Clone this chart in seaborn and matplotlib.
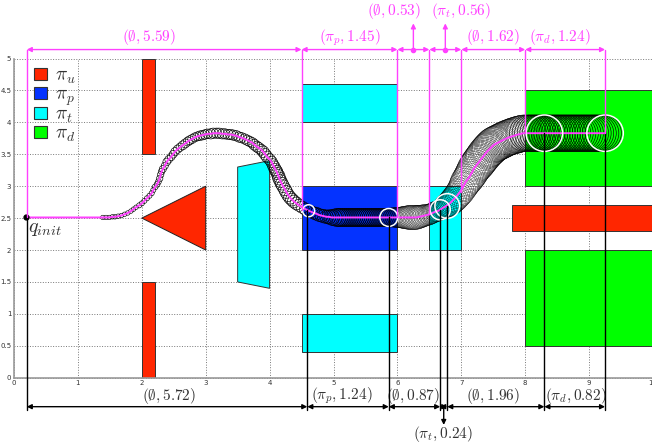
import numpy as np
import seaborn as sns
import matplotlib
matplotlib.use("Agg")
import matplotlib.pyplot as plt
from matplotlib.patches import Circle, Polygon

# start of the path (no tube yet)
q_init = [0.19, 2.51]

# tube centre and radius, section by section
a_x = [1.39,1.44,1.49,1.54,1.58,1.63,1.68,1.73,1.78,1.83,1.87,1.91,1.96,2.00,2.04,2.08,2.12,2.155,2.18,2.21,2.24,2.26,2.28,2.295,2.31]
a_y = [2.51,2.51,2.51,2.52,2.52,2.53,2.54,2.56,2.58,2.61,2.64,2.67,2.70,2.73,2.77,2.81,2.85,2.89,2.94,2.99,3.03,3.07,3.12,3.18,3.23]
a_r = [.035,.035,.035,.035,.035,.035,.035,.035,.035,.035,.035,.035,.04,.04,.04,.04,.04,.04,.04,.045,.045,.045,.05,.05,.05]

b_x = [2.33,2.36,2.39,2.42,2.46,2.49,2.52,2.56,2.60,2.64,2.68,2.72,2.75,2.79,2.83,2.87,2.91,2.95,2.99,3.03,3.08,3.12,3.17,3.21,3.26,3.30,3.35,3.39,3.43,3.48,3.52,3.56,3.61,3.65,3.69,3.73,3.76,3.80,3.83,3.87,3.90,3.93,3.96,4.00,4.03,4.05,4.07,4.09,4.11,4.12,4.14,4.15,4.17,4.19,4.21,4.24,4.26,4.29,4.32,4.35,4.38,4.42,4.46,4.51,4.56,4.61]
b_y = [3.27,3.32,3.38,3.42,3.46,3.50,3.54,3.58,3.61,3.64,3.67,3.70,3.72,3.74,3.765,3.78,3.79,3.80,3.81,3.82,3.82,3.83,3.83,3.83,3.82,3.82,3.81,3.81,3.80,3.79,3.77,3.76,3.74,3.72,3.70,3.68,3.65,3.62,3.60,3.57,3.54,3.50,3.46,3.42,3.38,3.34,3.30,3.26,3.23,3.20,3.16,3.12,3.08,3.04,3.00,2.95,2.91,2.86,2.82,2.79,2.76,2.73,2.70,2.67,2.64,2.615]
b_r = [.055,.055,.06,.06,.06,.06,.065,.065,.065,.07,.07,.07,.07,.07,.07,.07,.075,.075,.075,.075,.08,.08,.08,.08,.08,.08,.08,.08,.08,.08,.08,.08,.08,.08,.08,.08,.085,.085,.085,.085,.09,.09,.09,.09,.09,.09,.095,.095,.095,.095,.10,.10,.10,.10,.10,.10,.10,.10,.10,.10,.10,.10,.095,.095,.095,.095]

c_x = [4.65,4.69,4.73,4.77,4.81,4.85,4.89,4.93,4.97,5.01,5.05,5.08,5.11,5.14,5.17,5.20,5.23,5.26,5.29,5.32,5.35,5.38,5.41,5.44,5.47,5.50,5.53,5.56,5.59,5.62,5.65,5.68,5.71,5.74,5.77,5.80,5.83,5.87]
c_y = [2.60,2.58,2.57,2.55,2.54,2.53,2.52,2.52,2.51,2.51,2.51,2.51,2.51,2.51,2.51,2.51,2.51,2.51,2.51,2.51,2.51,2.51,2.51,2.51,2.51,2.51,2.51,2.51,2.51,2.51,2.51,2.51,2.51,2.51,2.51,2.51,2.51,2.51]
c_r = [.095,.095,.10,.10,.10,.105,.105,.11,.12,.13,.14,.14,.14,.14,.14,.14,.14,.14,.14,.14,.14,.14,.14,.14,.14,.14,.14,.14,.14,.14,.14,.14,.14,.14,.14,.14,.14,.14]

d_x = [5.90,5.92,5.94,5.96,5.98,6.00,6.02,6.04,6.06,6.08,6.10,6.12,6.14,6.16,6.18,6.20,6.22,6.24,6.26,6.28,6.30,6.32,6.34,6.36,6.38,6.40,6.42,6.445,6.47,6.49,6.51,6.53,6.55,6.57,6.59,6.61,6.63,6.65,6.67,6.69,6.71,6.73,6.75,6.765,6.78,6.80,6.82,6.84,6.86,6.88,6.90,6.92,6.94,6.96,6.98]
d_y = [2.51,2.51,2.51,2.51,2.51,2.51,2.51,2.51,2.51,2.51,2.51,2.51,2.51,2.51,2.51,2.51,2.51,2.51,2.51,2.51,2.51,2.515,2.52,2.525,2.53,2.535,2.54,2.545,2.55,2.555,2.56,2.57,2.58,2.59,2.60,2.605,2.61,2.62,2.63,2.645,2.66,2.67,2.68,2.69,2.70,2.715,2.73,2.75,2.77,2.79,2.81,2.835,2.86,2.885,2.91]
d_r = [.15,.15,.15,.152,.155,.157,.16,.162,.165,.167,.17,.175,.18,.182,.185,.187,.19,.19,.19,.187,.185,.182,.18,.177,.175,.172,.17,.167,.165,.162,.16,.16,.16,.16,.16,.16,.16,.158,.157,.16,.165,.172,.18,.187,.193,.197,.20,.203,.205,.207,.21,.212,.215,.217,.22]

e_x = [7.00,7.025,7.04,7.055,7.07,7.09,7.11,7.125,7.14,7.155,7.17,7.185,7.20,7.22,7.24,7.255,7.27,7.285,7.30,7.315,7.33,7.345,7.36,7.38,7.40,7.415,7.43,7.445,7.46,7.48,7.50,7.515,7.53,7.55,7.57,7.59,7.61,7.63,7.65,7.67,7.69,7.71,7.73,7.75,7.77,7.79,7.81,7.83,7.85,7.87,7.89,7.91,7.93,7.95,7.97,7.985,8.00]
e_y = [2.94,2.985,3.01,3.04,3.07,3.095,3.12,3.145,3.17,3.195,3.22,3.25,3.28,3.305,3.33,3.35,3.37,3.39,3.41,3.43,3.45,3.47,3.49,3.515,3.54,3.555,3.57,3.585,3.60,3.62,3.64,3.65,3.66,3.67,3.68,3.69,3.70,3.71,3.72,3.73,3.74,3.75,3.76,3.765,3.77,3.78,3.785,3.79,3.80,3.805,3.81,3.815,3.82,3.825,3.83,3.83,3.83]
e_r = [.223,.228,.23,.235,.24,.243,.245,.248,.25,.253,.255,.258,.26,.263,.265,.268,.27,.27,.27,.27,.27,.273,.275,.275,.275,.275,.275,.278,.28,.28,.28,.28,.28,.28,.28,.28,.28,.28,.28,.28,.28,.28,.28,.28,.28,.283,.283,.283,.283,.283,.285,.285,.285,.285,.285,.285,.285]

f_x = [8.04,8.08,8.12,8.16,8.20,8.24,8.28,8.30,8.34,8.38,8.42,8.46,8.50,8.54,8.58,8.62,8.66,8.70,8.74,8.78,8.82,8.86,8.90,8.94,8.98,9.02,9.06,9.10,9.14,9.18,9.22,9.25]
f_y = [3.83,3.83,3.83,3.83,3.83,3.83,3.83,3.83,3.83,3.83,3.83,3.83,3.83,3.83,3.83,3.83,3.83,3.83,3.83,3.83,3.83,3.83,3.83,3.83,3.83,3.83,3.83,3.83,3.83,3.83,3.83,3.83]
f_r = [.285,.285,.285,.285,.285,.285,.285,.285,.285,.285,.285,.285,.285,.285,.285,.285,.285,.285,.285,.285,.285,.285,.285,.285,.285,.285,.285,.285,.285,.285,.285,.285]

path_x = [q_init[0]] + a_x + b_x + c_x + d_x + e_x + f_x
path_y = [q_init[1]] + a_y + b_y + c_y + d_y + e_y + f_y

# obstacles / regions
red_rects = [(2, 3.5, 0.2, 1.5), (2, 0, 0.2, 1.5), (7.8, 2.3, 2.2, 0.4)]
red_tri = [(2, 2.5), (3, 3), (3, 2)]
cyan_rects = [(4.5, 4, 1.5, 0.6), (4.5, 0.4, 1.5, 0.6), (6.5, 2, 0.5, 1)]
cyan_poly = [(3.5, 3.3), (4, 3.4), (4, 1.4), (3.5, 1.5)]
blue_rects = [(4.5, 2, 1.5, 1)]
green_rects = [(8, 3, 2, 1.5), (8, 0.5, 2, 1.5)]

# top row: mode switches along the planned path
top_x = [0.2, 4.5, 6.0, 6.5, 7.0, 8.0, 9.25]
top_foot = [2.51, 2.62, 2.51, 2.56, 2.91, 3.83, 3.83]
top_labels = [r"$(\emptyset,5.59)$", r"$(\pi_p,1.45)$", r"$(\emptyset,0.53)$", r"$(\pi_t,0.56)$",
              r"$(\emptyset,1.62)$", r"$(\pi_d,1.24)$"]
top_label_x = [2.11, 5.26, 5.95, 7.0, 7.5, 8.55]

# bottom row: mode switches along the executed path
bot_x = [0.2, 4.59, 5.865, 6.67, 6.78, 8.30, 9.25]
bot_foot = [2.51, 2.62, 2.51, 2.63, 2.69, 3.83, 3.83]
bot_labels = [r"$(\emptyset,5.72)$", r"$(\pi_p,1.24)$", r"$(\emptyset,0.87)$", r"$(\pi_t,0.24)$",
              r"$(\emptyset,1.96)$", r"$(\pi_d,0.82)$"]
bot_label_x = [2.43, 5.13, 6.24, 6.71, 7.5, 8.8]

# white circles on the switching points
ring_x = [4.61, 5.865, 6.67, 6.78, 8.30, 9.25]
ring_y = [2.615, 2.51, 2.63, 2.69, 3.83, 3.83]
ring_r = [.094, .14, .157, .193, .285, .285]

legend_labels = [r"$\pi_u$", r"$\pi_p$", r"$\pi_t$", r"$\pi_d$"]

RED, BLUE, CYAN, GREEN = "#ff2600", "#0433ff", "#00ffff", "#00ff00"
MAG = "#ff40ff"
INK = "#333333"

sns.set_style("white")
plt.rcParams["mathtext.fontset"] = "cm"

fig = plt.figure(figsize=(6.52, 4.45), dpi=100)
ax = fig.add_axes([14 / 652, 67.3 / 445, 639 / 652, 319.2 / 445])

# regions
for rects, col in [(red_rects, RED), (cyan_rects, CYAN), (blue_rects, BLUE), (green_rects, GREEN)]:
    for r in rects:
        ax.add_patch(plt.Rectangle(r[:2], r[2], r[3], fc=col, ec="#333333", lw=0.7, zorder=2))
ax.add_patch(Polygon(red_tri, fc=RED, ec="#222222", lw=0.7, zorder=2))
ax.add_patch(Polygon(cyan_poly, fc=CYAN, ec="#333333", lw=0.7, zorder=2))

# tube of circles, thinner where they are packed tight
for sx, sy, sr, w in [(a_x, a_y, a_r, 0.45), (b_x, b_y, b_r, 0.45), (c_x, c_y, c_r, 0.45),
                      (d_x, d_y, d_r, 0.22), (e_x, e_y, e_r, 0.22), (f_x, f_y, f_r, 0.45)]:
    for x, y, r in zip(sx, sy, sr):
        ax.add_patch(Circle((x, y), r, fc="none", ec="black", lw=w, zorder=3))

# centre path
sns.lineplot(x=path_x, y=path_y, sort=False, estimator=None, color=MAG, lw=1.4, ax=ax, zorder=5)

for x, y, r in zip(ring_x, ring_y, ring_r):
    ax.add_patch(Circle((x, y), r, fc="none", ec="white", lw=1.1, zorder=6))

ax.plot(*q_init, "o", color="black", ms=3.5, zorder=7)
ax.text(0.22, 2.33, r"$q_{init}$", fontsize=14.5, color=INK, va="center", ha="left", zorder=8)

# dimension lines
top_lvl, bot_lvl = 5.14, -0.454


def dim(x0, x1, y, col):
    ax.annotate("", xy=(x1, y), xytext=(x0, y), annotation_clip=False, zorder=9,
                arrowprops=dict(arrowstyle="<|-|>", color=col, lw=1, mutation_scale=7, shrinkA=0, shrinkB=0))


def up(x, y0, y1, col):
    ax.annotate("", xy=(x, y1), xytext=(x, y0), annotation_clip=False, zorder=9,
                arrowprops=dict(arrowstyle="-|>", color=col, lw=1, mutation_scale=7, shrinkA=0, shrinkB=0))


for x, foot in zip(top_x, top_foot):
    ax.plot([x, x], [foot, top_lvl], color=MAG, lw=1, clip_on=False, zorder=8)
for x, foot in zip(bot_x, bot_foot):
    ax.plot([x, x], [foot, bot_lvl - 0.05], color="black", lw=1, clip_on=False, zorder=7)

for i, lab in enumerate(top_labels):
    x0, x1 = top_x[i], top_x[i + 1]
    mid = (x0 + x1) / 2
    dim(x0, x1, top_lvl, MAG)
    if i in (2, 3):
        up(mid, top_lvl, 5.55, MAG)
        ax.plot(mid, top_lvl, "o", color=MAG, ms=3, clip_on=False, zorder=9)
        ax.text(top_label_x[i], 5.75, lab, color=MAG, fontsize=11, ha="center", va="center")
    else:
        ax.text(top_label_x[i], 5.33, lab, color=MAG, fontsize=11, ha="center", va="center")

for i, lab in enumerate(bot_labels):
    x0, x1 = bot_x[i], bot_x[i + 1]
    mid = (x0 + x1) / 2
    dim(x0, x1, bot_lvl, "black")
    if i == 3:
        up(mid, bot_lvl, -0.74, "black")
        ax.text(bot_label_x[i], -0.88, lab, color=INK, fontsize=11, ha="center", va="center")
    else:
        ax.text(bot_label_x[i], -0.285, lab, color=INK, fontsize=11, ha="center", va="center")

# legend, laid out by hand so the rows keep an even pitch
for i, (lab, col) in enumerate(zip(legend_labels, (RED, BLUE, CYAN, GREEN))):
    top = 4.85 - i * 0.304
    ax.add_patch(plt.Rectangle((0.32, top - 0.185), 0.19, 0.185, fc=col, ec="#333333", lw=0.8, zorder=4))
    ax.text(0.645, top - 0.09, lab, fontsize=14, color=INK, ha="left", va="center_baseline", zorder=4)

ax.set_xlim(0, 10)
ax.set_ylim(0, 5)
ax.set_xticks(range(11))
ax.set_yticks(np.arange(0, 5.5, 0.5))
ax.set_xticklabels([str(i) for i in range(11)])
ax.set_yticklabels(["0", "0.5", "1", "1.5", "2", "2.5", "3", "3.5", "4", "4.5", "5"])
ax.tick_params(labelsize=5, length=2.5, width=0.5, direction="in", pad=2, colors="#333333")
ax.grid(True, ls=":", color="#777777", lw=0.7, zorder=1)
ax.set_axisbelow(True)
sns.despine(ax=ax, top=True, right=True)
for s in ("left", "bottom"):
    ax.spines[s].set_color("#999999")
    ax.spines[s].set_linewidth(1.2)
for g in ax.get_ygridlines() + ax.get_xgridlines():
    g.set_clip_on(False)

fig.savefig("out.png", dpi=100)
